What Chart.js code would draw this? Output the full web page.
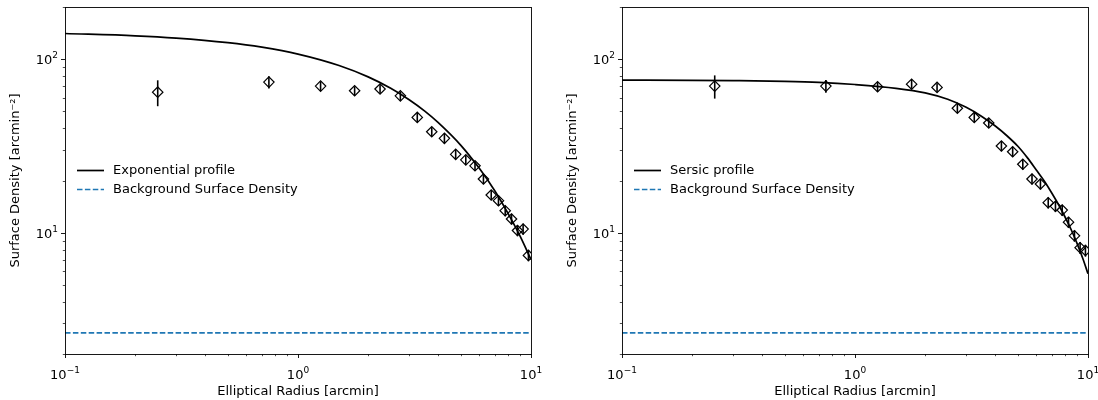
<!DOCTYPE html>
<html>
<head>
<meta charset="utf-8">
<script src="https://cdn.jsdelivr.net/npm/chart.js@4.4.1/dist/chart.umd.min.js"></script>
<style>
  html, body { margin: 0; padding: 0; background: #fff; }
  body { width: 1098px; height: 400px; position: relative; overflow: hidden; }
  .panel { position: absolute; top: 0; height: 400px; }
  #left { left: 0; width: 549px; }
  #right { left: 557px; width: 541px; }
</style>
</head>
<body>
<div class="panel" id="left"><canvas id="expChart" width="549" height="400"></canvas></div>
<div class="panel" id="right"><canvas id="sersicChart" width="541" height="400"></canvas></div>
<script>
// ── Data ────────────────────────────────────────────────────
const radii = [0.25, 0.75, 1.25, 1.75, 2.25, 2.75, 3.25, 3.75, 4.25, 4.75,
               5.25, 5.75, 6.25, 6.75, 7.25, 7.75, 8.25, 8.75, 9.25, 9.75];

const expDensity = [64.6, 73.8, 70.0, 65.8, 67.4, 61.5, 46.2, 38.2, 35.0, 28.3,
                    26.3, 24.3, 20.4, 16.5, 15.3, 13.4, 12.0, 10.3, 10.5, 7.4];
const expErr = [11, 6, 4.4, 4.0, 4.0, 3.7, 2.8, 2.4, 2.2, 1.8,
                1.7, 1.6, 1.35, 1.1, 1.05, 0.95, 0.85, 0.75, 0.75, 0.55];

const sersicDensity = [70.0, 70.0, 69.4, 71.8, 68.8, 52.2, 46.2, 42.9, 31.6, 29.3,
                       24.8, 20.4, 19.1, 14.9, 14.2, 13.5, 11.5, 9.6, 8.2, 7.9];
const sersicErr = [10.7, 6, 4.4, 4.3, 4.0, 3.2, 2.9, 2.7, 2.1, 2.0,
                   1.7, 1.45, 1.35, 1.1, 1.05, 1.0, 0.85, 0.72, 0.65, 0.62];

const expModelR = [0.1, 0.2, 0.3, 0.5, 0.7, 1, 1.5, 2, 2.5, 3, 3.5, 4, 5, 6, 7, 8, 9, 10];
const expModel  = [140.7, 136.5, 132.4, 124.6, 117.3, 107.1, 92.0, 79.1, 68.0, 58.4,
                   50.2, 43.1, 31.9, 23.5, 17.4, 12.8, 9.5, 7.0];

const sersicModelR = [0.1, 0.2, 0.3, 0.5, 0.7, 1, 1.5, 2, 2.5, 3, 3.5, 4, 4.5, 5,
                      5.5, 6, 6.5, 7, 7.5, 8, 8.5, 9, 9.5, 10];
const sersicModel  = [75.8, 75.6, 75.3, 74.6, 73.6, 71.5, 68.0, 64.0, 58.8, 52.8, 46.8,
                      41.2, 36.1, 31.5, 27.0, 23.0, 19.8, 16.9, 14.4, 12.2, 10.3, 8.6, 7.1, 5.8];

const bgR = [0.1, 10];
const bgLevel = [2.65, 2.65];

// tick positions and their "10^n" exponents
const xMajor = [0.1, 1, 10];
const xExponents = ["\u22121", "0", "1"];
const xMinor = [0.2, 0.3, 0.4, 0.5, 0.6, 0.7, 0.8, 0.9, 2, 3, 4, 5, 6, 7, 8, 9];
const yMajor = [10, 100];
const yExponents = ["1", "2"];
const yMinor = [2, 3, 4, 5, 6, 7, 8, 9, 20, 30, 40, 50, 60, 70, 80, 90, 200];

(() => {
  "use strict";

  // ── Design tokens ──────────────────
  const C = {
    ink: "#000000",
    blue: "#1f77b4"
  };
  const FONT = { family: "'DejaVu Sans', sans-serif", size: 13, sup: 9 };

  Chart.defaults.font.family = FONT.family;
  Chart.defaults.font.size = FONT.size;
  Chart.defaults.color = C.ink;

  const pts = (xs, ys) => xs.map((x, i) => ({ x, y: ys[i] }));

  const tickList = (major, minor) =>
    major.map(v => ({ value: v, major: true }))
      .concat(minor.map(v => ({ value: v, major: false })))
      .sort((a, b) => a.value - b.value);

  /* ── plugins ──────────────────────────────────────────────── */
  const errorBars = {
    id: "errorBars",
    afterDatasetsDraw(chart) {
      const { ctx, chartArea: a, scales: { x, y } } = chart;
      ctx.save();
      ctx.beginPath();
      ctx.rect(a.left, a.top, a.right - a.left, a.bottom - a.top);
      ctx.clip();
      ctx.strokeStyle = C.ink;
      ctx.lineWidth = 1.6;
      chart.data.datasets.forEach(d => {
        if (!d.yErr) return;
        d.data.forEach((p, i) => {
          const px = x.getPixelForValue(p.x);
          ctx.beginPath();
          ctx.moveTo(px, y.getPixelForValue(p.y + d.yErr[i]));
          ctx.lineTo(px, y.getPixelForValue(p.y - d.yErr[i]));
          ctx.stroke();
        });
      });
      ctx.restore();
    }
  };

  // matplotlib-style frame, outward ticks and 10^n labels
  const frameAndTicks = {
    id: "frameAndTicks",
    afterDraw(chart) {
      const { ctx, chartArea: a, scales: { x, y } } = chart;
      ctx.save();
      ctx.strokeStyle = C.ink;
      x.ticks.forEach(t => {
        const px = Math.round(x.getPixelForValue(t.value)) + 0.5;
        ctx.lineWidth = t.major ? 0.9 : 0.7;
        ctx.beginPath();
        ctx.moveTo(px, a.bottom);
        ctx.lineTo(px, a.bottom + (t.major ? 4 : 2.2));
        ctx.stroke();
      });
      y.ticks.forEach(t => {
        const py = Math.round(y.getPixelForValue(t.value)) + 0.5;
        ctx.lineWidth = t.major ? 0.9 : 0.7;
        ctx.beginPath();
        ctx.moveTo(a.left, py);
        ctx.lineTo(a.left - (t.major ? 4 : 2.2), py);
        ctx.stroke();
      });
      ctx.lineWidth = 0.9;
      ctx.strokeRect(a.left + 0.5, a.top + 0.5, a.right - a.left, a.bottom - a.top);

      const base = `${FONT.size}px ${FONT.family}`;
      const sup = `${FONT.sup}px ${FONT.family}`;
      const power = (exp, px, baseline, align) => {
        ctx.font = base;
        const wb = ctx.measureText("10").width;
        ctx.font = sup;
        const we = ctx.measureText(exp).width;
        const left = align === "right" ? px - wb - we : px - (wb + we) / 2;
        ctx.fillStyle = C.ink;
        ctx.textBaseline = "alphabetic";
        ctx.textAlign = "left";
        ctx.font = base;
        ctx.fillText("10", left, baseline);
        ctx.font = sup;
        ctx.fillText(exp, left + wb, baseline - 6);
      };
      xMajor.forEach((v, i) => power(xExponents[i], x.getPixelForValue(v), a.bottom + 25, "center"));
      yMajor.forEach((v, i) => power(yExponents[i], a.left - 7, y.getPixelForValue(v) + 5, "right"));
      ctx.restore();
    }
  };

  const inlineLegend = {
    id: "inlineLegend",
    afterDraw(chart) {
      const { ctx, chartArea: a } = chart;
      const mid = (a.top + a.bottom) / 2;
      const rows = chart.data.datasets.filter(d => d.inLegend);
      ctx.save();
      ctx.font = `${FONT.size}px ${FONT.family}`;
      ctx.textBaseline = "middle";
      rows.forEach((d, i) => {
        const yy = Math.round(mid - 11 + i * 19) + 0.5;
        ctx.strokeStyle = d.borderColor;
        ctx.lineWidth = d.borderWidth;
        ctx.setLineDash(d.borderDash || []);
        ctx.beginPath();
        ctx.moveTo(a.left + 12, yy);
        ctx.lineTo(a.left + 39, yy);
        ctx.stroke();
        ctx.setLineDash([]);
        ctx.fillStyle = C.ink;
        ctx.fillText(d.label, a.left + 48, yy);
      });
      ctx.restore();
    }
  };

  /* ── chart builder ────────────────────────────────────────── */
  function buildChart(id, opts) {
    return new Chart(document.getElementById(id), {
      type: "scatter",
      data: {
        datasets: [
          {
            label: opts.modelLabel,
            data: pts(opts.modelR, opts.model),
            showLine: true,
            borderColor: C.ink,
            borderWidth: 1.7,
            pointRadius: 0,
            cubicInterpolationMode: "monotone",
            inLegend: true
          },
          {
            label: "Background Surface Density",
            data: pts(bgR, bgLevel),
            showLine: true,
            borderColor: C.blue,
            borderWidth: 1.7,
            borderDash: [5.5, 2.4],
            pointRadius: 0,
            inLegend: true
          },
          {
            label: "data",
            data: pts(radii, opts.density),
            yErr: opts.err,
            pointStyle: "rectRot",
            pointRadius: 5.2,
            pointBorderWidth: 1.2,
            pointBorderColor: C.ink,
            pointBackgroundColor: "rgba(0,0,0,0)"
          }
        ]
      },
      options: {
        responsive: false,
        animation: false,
        layout: { padding: { top: 7, right: opts.padRight, bottom: 0, left: 0 } },
        plugins: { legend: { display: false }, tooltip: { enabled: false } },
        scales: {
          x: {
            type: "logarithmic",
            min: 0.1,
            max: 10,
            border: { display: false },
            grid: { display: false, drawTicks: false },
            afterBuildTicks: (s) => { s.ticks = tickList(xMajor, xMinor); },
            afterFit: (s) => { s.height = 46; s.paddingLeft = 0; s.paddingRight = 0; },
            ticks: { display: false, autoSkip: false },
            title: {
              display: true,
              text: "Elliptical Radius [arcmin]",
              color: C.ink,
              padding: { top: 0, bottom: 1 }
            }
          },
          y: {
            type: "logarithmic",
            min: 2,
            max: 200,
            border: { display: false },
            grid: { display: false, drawTicks: false },
            afterBuildTicks: (s) => { s.ticks = tickList(yMajor, yMinor); },
            afterFit: (s) => { s.width = 65; s.paddingTop = 0; s.paddingBottom = 0; },
            ticks: { display: false, autoSkip: false },
            title: {
              display: true,
              text: "Surface Density [arcmin\u207B\u00B2]",
              color: C.ink,
              padding: { top: 8, bottom: 0 }
            }
          }
        }
      },
      plugins: [errorBars, frameAndTicks, inlineLegend]
    });
  }

  buildChart("expChart", {
    modelLabel: "Exponential profile",
    modelR: expModelR,
    model: expModel,
    density: expDensity,
    err: expErr,
    padRight: 18
  });

  buildChart("sersicChart", {
    modelLabel: "Sersic profile",
    modelR: sersicModelR,
    model: sersicModel,
    density: sersicDensity,
    err: sersicErr,
    padRight: 10
  });
})();
</script>
</body>
</html>
